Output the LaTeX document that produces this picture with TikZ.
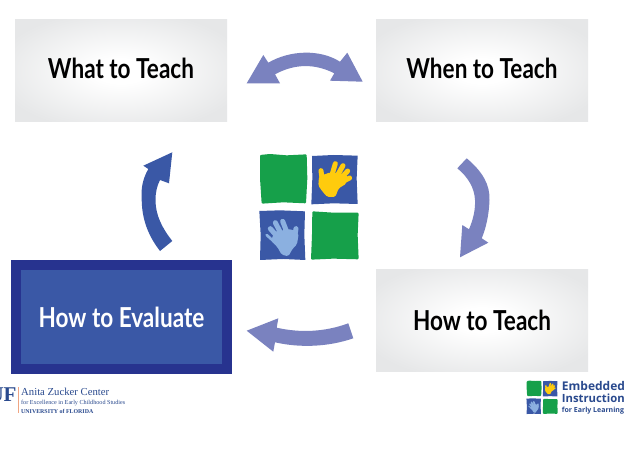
\documentclass[tikz,border=0pt]{standalone}
\usepackage{fontspec}
\setmainfont{Lato}[FakeStretch=0.82]
\newfontfamily\serifx{Liberation Serif}
\newfontfamily\sansx{Open Sans}
\definecolor{lightarrow}{HTML}{7A82BF}
\definecolor{darkarrow}{HTML}{3A58A6}
\definecolor{evalout}{HTML}{27338F}
\definecolor{logogreen}{HTML}{16A04A}
\definecolor{logoblue}{HTML}{3A58A6}
\definecolor{handyellow}{HTML}{FFCB0D}
\definecolor{handblue}{HTML}{8BB0E0}
\definecolor{ufblue}{HTML}{2A4A8E}
\definecolor{uforange}{HTML}{F0A583}
\definecolor{boxedge}{HTML}{E6E7E8}
\pgfdeclareradialshading{boxglow}{\pgfpoint{0bp}{0bp}}{color(0bp)=(white); color(6bp)=(white); color(30bp)=(boxedge); color(50bp)=(boxedge)}
\newcommand{\handlogo}[3]{%
  \begin{scope}[shift={(#1,#2)},x=#3pt,y=-#3pt]
    \fill[logogreen,rounded corners=1pt] (30,30)--(60,27)--(110,31)--(170,28)--(172,100)--(168,175)--(100,172)--(35,176)--(30,100)--cycle;
    \fill[logoblue] (186,33)--(250,30)--(323,32)--(320,100)--(323,177)--(250,175)--(184,178)--(187,100)--cycle;
    \fill[logoblue] (28,198)--(90,196)--(165,199)--(163,270)--(166,345)--(100,342)--(30,345)--(32,270)--cycle;
    \fill[logogreen,rounded corners=1pt] (187,199)--(250,203)--(326,203)--(323,270)--(326,343)--(250,341)--(183,344)--(186,270)--cycle;
    \fill[handyellow,rounded corners=5*#3 pt] (207,94)--(241,82)--(292,90)--(289,116)--(266,130)--(256,156)--(232,156)--(217,139)--(205,122)--cycle;
    \draw[handyellow,line width=15*#3 pt,line cap=round] (246,90)--(256,56) (263,90)--(279,62) (275,98)--(293,78) (280,108)--(299,99) (216,100)--(213,77);
    \fill[handblue,rounded corners=5*#3 pt] (74,260)--(122,252)--(146,266)--(141,298)--(128,311)--(115,334)--(95,329)--(82,306)--(63,287)--cycle;
    \draw[handblue,line width=15*#3 pt,line cap=round] (61,251)--(82,275) (76,233)--(92,264) (98,229)--(110,260) (138,251)--(134,275);
    \draw[handblue,line width=8*#3 pt,line cap=round] (50,270)--(80,297);
  \end{scope}}
\tikzset{
  graybox/.style={minimum width=212pt,minimum height=102pt,inner sep=0pt,shading=boxglow,font=\fontsize{27.5}{30}\selectfont\bfseries,text height=20pt},
  blockarrow/.style={line join=miter},
  ufline/.style={anchor=base west,inner sep=0pt,text=ufblue},
}
\begin{document}
\begin{tikzpicture}[x=1pt,y=-1pt]
\clip (0,0) rectangle (624,468);
\fill[white] (0,0) rectangle (624,468);
\node[graybox,text depth=5pt] (what) at (121,71) {What to Teach};
\node[graybox,text depth=5pt] (when) at (482,71) {When to Teach};
\node[graybox,text depth=0pt] (how) at (482,320) {How to Teach};
\node[minimum width=221pt,minimum height=114pt,inner sep=0pt,fill=evalout] (evalbox) at (121.5,317) {};
\node[minimum width=201pt,minimum height=94pt,inner sep=0pt,fill=darkarrow,text=white,font=\fontsize{27.5}{30}\selectfont\bfseries,text height=20pt,text depth=0pt] (evaltext) at (evalbox.center) {How to Evaluate};
% block arrows
\fill[lightarrow,blockarrow] (246.7,83.3)--(263.3,55)--(268.3,62.7) .. controls (290,50) and (320,49) .. (340,61.7)
  --(347.3,52.7)--(362.7,81.7)--(330,80.7)--(334.3,73.3) .. controls (315,63.5) and (295,63.5) .. (275,74.3)--(280,83.3)--cycle;
\fill[lightarrow,blockarrow] (466.7,158.3) .. controls (483,172) and (490,185) .. (489.5,200) .. controls (489,215) and (486,228) .. (481.7,238.3)
  --(488.3,242.7)--(460,257.3)--(462.3,225)--(469,229.3) .. controls (473,220) and (475.5,210) .. (475,200) .. controls (474.5,188) and (468,177) .. (457.3,168.3)--cycle;
\fill[lightarrow,blockarrow] (246.7,330.7)--(278.3,318.3)--(276.7,327.7) .. controls (300,333) and (325,332) .. (348.3,323.3)
  --(353.3,338.3) .. controls (328,347) and (300,348) .. (275,342.3)--(273.3,351.7)--cycle;
\fill[darkarrow,blockarrow] (172.3,152.3)--(143.3,165.7)--(148.3,169) .. controls (142,180) and (141,190) .. (141.7,200) .. controls (142,222) and (150,238) .. (160,251)
  --(172.3,241) .. controls (162,228) and (155.5,215) .. (155.5,200) .. controls (155.5,192) and (157,186) .. (160,180)--(169,183.3)--cycle;
\handlogo{250}{145}{0.3333}
\handlogo{523.5}{377.8}{0.105}
% left logo
\node[anchor=base east,inner sep=0pt,text=ufblue,font=\serifx\bfseries\fontsize{21}{21}\selectfont] (uf) at (16.7,401.7) {UF};
\coordinate (orangetop) at (18.3,387);
\coordinate (orangebot) at (18.3,413);
\draw[uforange,line width=0.8pt] (orangetop)--(orangebot);
\node[ufline,font=\serifx\fontsize{10.7}{12}\selectfont] (anita) at (21,395) {Anita Zucker Center};
\node[ufline,font=\serifx\fontsize{6.15}{7}\selectfont] (excel) at (21,404) {for Excellence in Early Childhood Studies};
\node[ufline,font=\serifx\bfseries\fontsize{5.9}{7}\selectfont] (univ) at (21,413) {UNIVERSITY of FLORIDA};
% right logo
\node[ufline,font=\sansx\bfseries\fontsize{12}{13}\selectfont] (emb) at (561.7,390.7) {Embedded};
\node[ufline,font=\sansx\bfseries\fontsize{11.3}{13}\selectfont] (ins) at (561.7,402.3) {Instruction};
\node[ufline,font=\sansx\bfseries\fontsize{7}{8}\selectfont] (early) at (561.7,412.3) {for Early Learning};
\end{tikzpicture}
\end{document}
